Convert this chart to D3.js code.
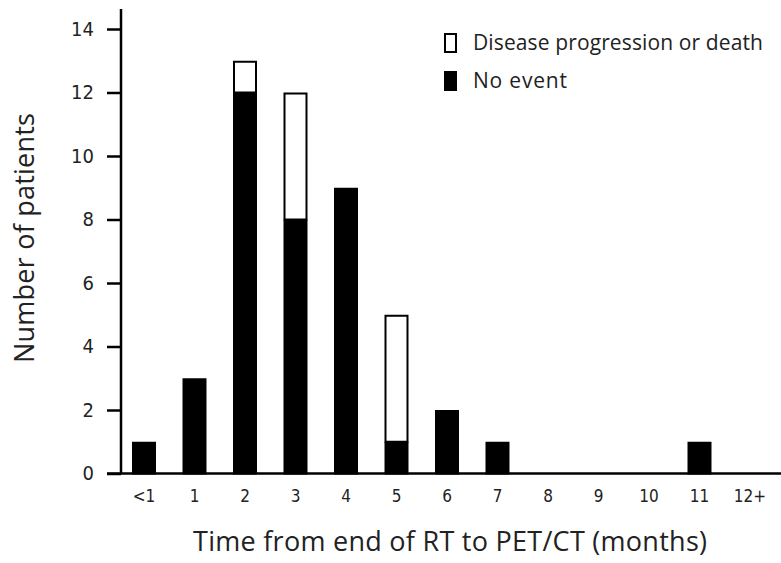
<!DOCTYPE html>
<html>
<head>
<meta charset="utf-8">
<script src="https://cdn.jsdelivr.net/npm/d3@7"></script>
<style>
  body { margin: 0; background: #fff; }
  svg { display: block; }
  .tick text { font-family: "DejaVu Sans Condensed", "Open Sans", sans-serif; fill: #222; }
</style>
</head>
<body>
<div class="graph"></div>
<script>
var categories = ['<1', '1', '2', '3', '4', '5', '6', '7', '8', '9', '10', '11', '12+'];
var noEvent    = [1, 3, 12, 8, 9, 1, 2, 1, 0, 0, 0, 1, 0];
var progression = [0, 0, 1, 4, 0, 4, 0, 0, 0, 0, 0, 0, 0];
var yTicks = [0, 2, 4, 6, 8, 10, 12, 14];
var seriesNames = ['No event', 'Disease progression or death'];

var width = 781, height = 563;
var svg = d3.select('.graph').append('svg')
  .attr('width', width).attr('height', height);

var rows = categories.map(function(c, i) {
  return { cat: c, noEvent: noEvent[i], progression: progression[i] };
});

var x = d3.scaleBand().domain(categories)
  .range([118.75, 775.25])
  .paddingInner(0.525).paddingOuter(0.2625);
var y = d3.scaleLinear().domain([0, 14]).range([473.5, 29]);

var stack = d3.stack().keys(['noEvent', 'progression']);
var layers = stack(rows);
var fills = { noEvent: '#000', progression: '#fff' };

// bars
svg.selectAll('g.layer').data(layers).enter().append('g')
  .attr('class', 'layer')
  .attr('fill', function(d) { return fills[d.key]; })
  .selectAll('rect').data(function(d) { return d.filter(function(p) { return p[1] > p[0]; }); })
  .enter().append('rect')
    .attr('x', function(d) { return x(d.data.cat) + 1; })
    .attr('width', x.bandwidth() - 2)
    .attr('y', function(d) { return y(d[1]) + 1; })
    .attr('height', function(d) { return y(d[0]) - y(d[1]) - 1; })
    .attr('stroke', '#000')
    .attr('stroke-width', 2);

// y axis
var yAxis = svg.append('g')
  .attr('transform', 'translate(121,0)')
  .call(d3.axisLeft(y).tickValues(yTicks).tickSize(14).tickPadding(13));
yAxis.select('.domain').attr('d', 'M0,9V473.5').attr('stroke-width', 2.5);
yAxis.selectAll('.tick line').attr('stroke-width', 2.5);
yAxis.selectAll('.tick text').attr('font-size', 20);

// x axis
var xAxis = svg.append('g')
  .attr('transform', 'translate(0,473.5)')
  .call(d3.axisBottom(x).tickSize(0).tickPadding(16));
xAxis.select('.domain').attr('d', 'M107,0H781').attr('stroke-width', 2.5);
xAxis.selectAll('.tick text').attr('font-size', 17);

// axis titles
svg.append('text')
  .attr('x', 450).attr('y', 551)
  .attr('text-anchor', 'middle')
  .attr('font-family', '"Open Sans", sans-serif')
  .attr('font-size', 27)
  .attr('textLength', 514)
  .attr('fill', '#222')
  .text('Time from end of RT to PET/CT (months)');

svg.append('text')
  .attr('transform', 'translate(34,238) rotate(-90)')
  .attr('text-anchor', 'middle')
  .attr('font-family', '"Open Sans", sans-serif')
  .attr('font-size', 27)
  .attr('textLength', 250)
  .attr('fill', '#222')
  .text('Number of patients');

// legend
var legend = svg.append('g').attr('transform', 'translate(444,33)');
var legendItems = [
  { label: seriesNames[1], fill: '#fff' },
  { label: seriesNames[0], fill: '#000' }
];
var li = legend.selectAll('g').data(legendItems).enter().append('g')
  .attr('transform', function(d, i) { return 'translate(0,' + (i * 38) + ')'; });
li.append('rect')
  .attr('x', 1).attr('y', 1).attr('width', 11).attr('height', 18)
  .attr('fill', function(d) { return d.fill; })
  .attr('stroke', '#000').attr('stroke-width', 2);
li.append('text')
  .attr('x', 29).attr('y', 17)
  .attr('font-family', '"Open Sans", sans-serif')
  .attr('font-size', 21)
  .attr('textLength', function(d, i) { return i === 0 ? 290 : 94; })
  .attr('fill', '#222')
  .text(function(d) { return d.label; });
</script>
</body>
</html>
